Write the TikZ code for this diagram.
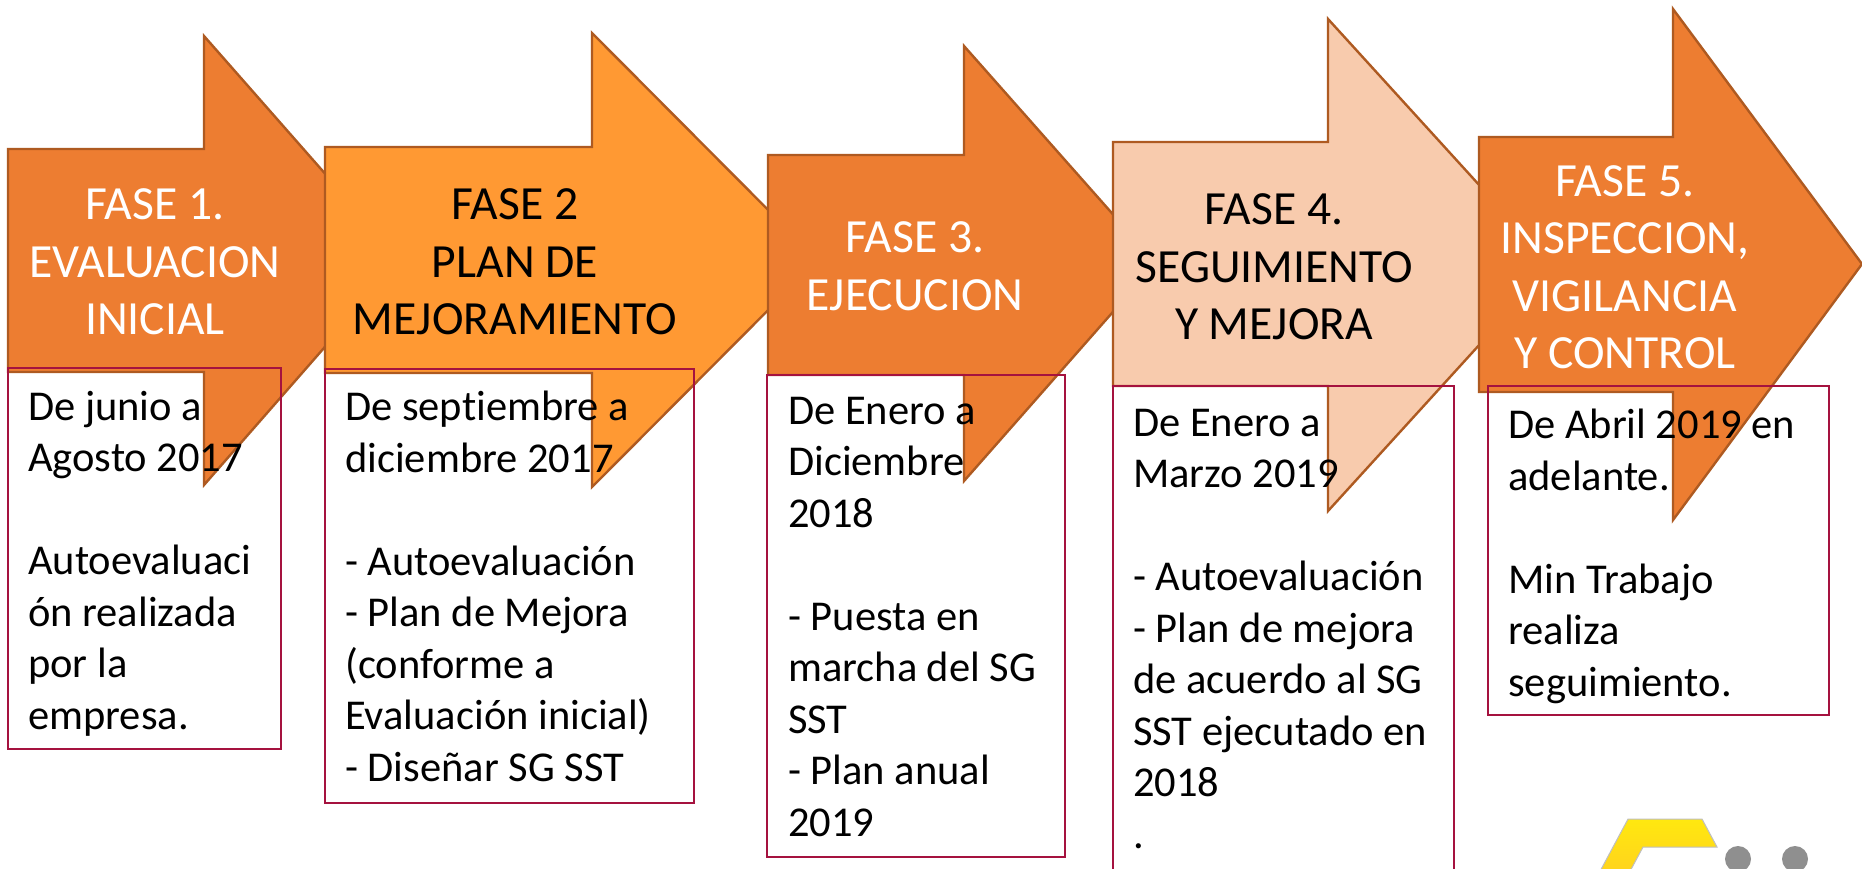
\documentclass[tikz,border=0pt]{standalone}
\usepackage{fontspec}
\setmainfont{Carlito}[Ligatures=NoCommon]
\definecolor{orA}{HTML}{ED7D31}
\definecolor{orB}{HTML}{FF9933}
\definecolor{orC}{HTML}{F8CBAD}
\definecolor{edgeC}{HTML}{AE5A21}
\definecolor{boxC}{HTML}{A5123F}
\definecolor{logoT}{HTML}{FFE80F}
\definecolor{logoB}{HTML}{FFD21E}
\definecolor{logoG}{HTML}{8F8F8F}
\tikzset{
  x=1pt,y=-1pt,
  arrowshape/.style={draw=edgeC,line width=2.4pt,line join=miter},
  infobox/.style={draw=boxC,line width=1.8pt},
  headtext/.style={inner sep=0pt,align=center,anchor=center,font=\fontsize{47.6}{57.5}\selectfont},
  bodytext/.style={inner sep=0pt,align=left,anchor=north west,font=\fontsize{42.5}{51.5}\selectfont,text=black},
}
\begin{document}
\begin{tikzpicture}
\useasboundingbox (0,0) rectangle (1862,868);
\clip (0,0) rectangle (1862,868);
\fill[white] (0,0) rectangle (1862,868);
% arrows
\draw[arrowshape,fill=orA] (8,149) -- (204,149) -- (204,36) -- (401,260) -- (204,485) -- (204,372) -- (8,372) -- cycle;
\draw[arrowshape,fill=orB] (325,147) -- (592,147) -- (592,33) -- (818,260) -- (592,487) -- (592,373) -- (325,373) -- cycle;
\draw[arrowshape,fill=orA] (768,155) -- (964,155) -- (964,46) -- (1156,263) -- (964,481) -- (964,375) -- (768,375) -- cycle;
\draw[arrowshape,fill=orC] (1113,142) -- (1328,142) -- (1328,19) -- (1552,265) -- (1328,511) -- (1328,386) -- (1113,386) -- cycle;
\draw[arrowshape,fill=orA] (1479,137) -- (1673,137) -- (1673,9) -- (1862,264) -- (1673,520) -- (1673,392) -- (1479,392) -- cycle;
% boxes
\draw[infobox] (8,368) rectangle (281,749);
\draw[infobox] (325,369) rectangle (694,803);
\draw[infobox] (767,375) rectangle (1065,857);
\draw[infobox] (1113,386) rectangle (1454,880);
\draw[infobox] (1488,386) rectangle (1829,715);
% header texts
\node[headtext,text=white] (h1) at (155,262) {FASE 1.\\EVALUACION\\INICIAL};
\node[headtext,text=black] (h2) at (515,262) {FASE 2\\PLAN DE\\MEJORAMIENTO};
\node[headtext,text=white] (h3) at (915,266) {FASE 3.\\EJECUCION};
\node[headtext,text=black] (h4) at (1274,267) {FASE 4.\\SEGUIMIENTO\\Y MEJORA};
\node[headtext,text=white] (h5) at (1625,267) {FASE 5.\\INSPECCION,\\VIGILANCIA\\Y CONTROL};
% body texts
\node[bodytext] (b1) at (28,391) {De junio a\\Agosto 2017\\\mbox{}\\Autoevaluaci\\ón realizada\\por la\\empresa.};
\node[bodytext] (b2) at (345,391) {De septiembre a\\diciembre 2017\\\mbox{}\\- Autoevaluación\\- Plan de Mejora\\(conforme a\\Evaluación inicial)\\- Diseñar SG SST};
\node[bodytext] (b3) at (788,397) {De Enero a\\Diciembre\\2018\\\mbox{}\\- Puesta en\\marcha del SG\\SST\\- Plan anual\\2019};
\node[bodytext] (b4) at (1133,409) {De Enero a\\Marzo 2019\\\mbox{}\\- Autoevaluación\\- Plan de mejora\\de acuerdo al SG\\SST ejecutado en\\2018\\.};
\node[bodytext] (b5) at (1508,409) {De Abril 2019 en\\adelante.\\\mbox{}\\Min Trabajo\\realiza\\seguimiento.};
% logo
\path[top color=logoT,bottom color=logoB,draw=black!25,line width=1pt] (1628,819) -- (1702,819) -- (1717,847) -- (1643,847) -- (1628,875) -- (1598,875) -- cycle;
\fill[logoG] (1738,859) circle (13);
\fill[logoG] (1795,859) circle (13);
\end{tikzpicture}
\end{document}
